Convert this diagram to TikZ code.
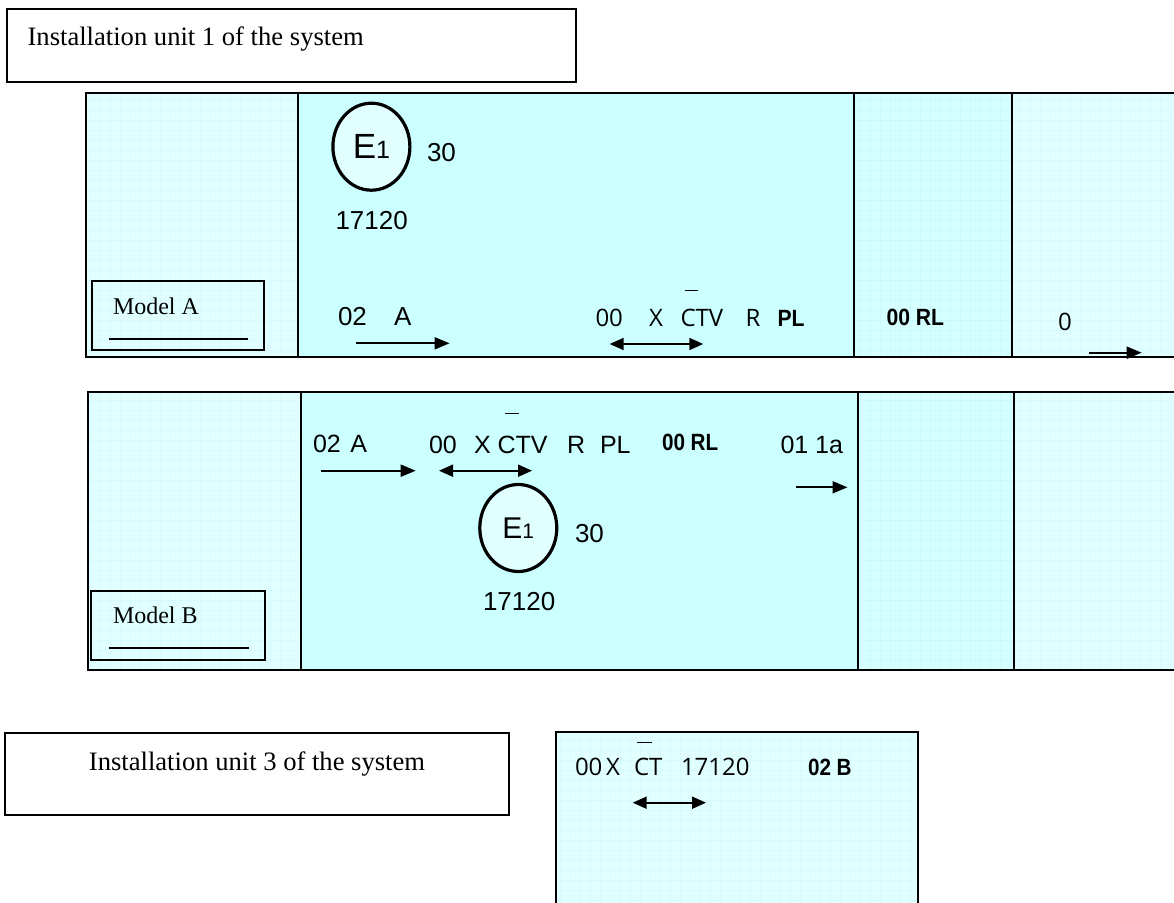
\documentclass[tikz,border=0pt]{standalone}
\usepackage{fontspec}
\usepackage{graphicx}
\setmainfont{Liberation Serif}
\newfontfamily\arialf{Liberation Sans}
\newfontfamily\opensf{Open Sans}
\usetikzlibrary{arrows.meta,shapes.geometric}
\definecolor{cellLight}{RGB}{225,255,255}
\definecolor{gridLight}{RGB}{212,251,255}
\definecolor{cellMid}{RGB}{204,255,255}
\definecolor{cellThird}{RGB}{214,255,255}
\definecolor{gridThird}{RGB}{203,249,255}
\newcommand\gridcell[6]{%
  \begin{scope}
    \clip (#1,#2) rectangle (#3,#4);
    \fill[#5] (#1,#2) rectangle (#3,#4);
    \draw[#6, line width=0.5bp, step=10bp] (#1,#4) grid (#3,#2);
  \end{scope}}
\tikzset{
  lbl/.style={anchor=base west, inner sep=0pt, outer sep=0pt},
  ar/.style={font=\arialf\fontsize{26bp}{30bp}\selectfont},
  arb/.style={font=\arialf\fontsize{25bp}{30bp}\selectfont},
  os/.style={font=\opensf\fontsize{24bp}{28bp}\selectfont},
  tm/.style={font=\fontsize{26.6bp}{30bp}\selectfont},
  tms/.style={font=\fontsize{24bp}{28bp}\selectfont},
  bd/.style={font=\arialf\bfseries\fontsize{23.5bp}{28bp}\selectfont},
  arr/.style={line width=2bp, -{Triangle[length=15bp,width=12bp]}},
  darr/.style={line width=2bp, {Triangle[length=14bp,width=12bp]}-{Triangle[length=14bp,width=12bp]}},
  ovl/.style={line width=1.3bp},
  frame/.style={draw=black, line width=2bp},
  eli/.style={ellipse, draw=black, line width=3.2bp, fill=cellLight, inner sep=0pt,
    minimum width=77bp, minimum height=87bp, font=\arialf},
}
\begin{document}
\begin{tikzpicture}[x=1bp,y=-1bp]
\useasboundingbox (0,0) rectangle (1174,903);
\fill[white] (0,0) rectangle (1174,903);

% ---------- unit 1 title box
\draw[frame] (7,9.3) rectangle (576,81.7);
\node[lbl,tm] (t1) at (27.6,45) {Installation unit 1 of the system};

% ---------- row A
\gridcell{86}{93.3}{298}{357}{cellLight}{gridLight}
\fill[cellMid] (298,93.3) rectangle (854,357);
\gridcell{854}{93.3}{1012}{357}{cellThird}{gridThird}
\gridcell{1012}{93.3}{1180}{357}{cellLight}{gridLight}
\draw[frame] (86,93.3) rectangle (1180,357);
\draw[frame] (298,93.3) -- (298,357);
\draw[frame] (854,93.3) -- (854,357);
\draw[frame] (1012,93.3) -- (1012,357);

\draw[frame] (91.8,281) rectangle (264,350);
\node[lbl,tms] (mA) at (113,314) {Model A};
\draw[line width=2bp] (109,338.7) -- (248,338.7);

\node[eli] (eA) at (371.4,146.7) {\fontsize{35bp}{40bp}\selectfont E\fontsize{25bp}{30bp}\selectfont 1};
\node[lbl,ar] (a30) at (427,161.7) {30};
\node[lbl,ar] (a17) at (335.5,229.3) {17120};

\node[lbl,ar] (a02) at (338,325.7) {02};
\node[lbl,ar] (aA) at (394,325.7) {A};
\coordinate (pa1) at (356,343.3);
\coordinate (pa2) at (449.6,343.3);
\draw[arr] (pa1) -- (pa2);

\node[lbl,os] (a00) at (595.5,326) {00};
\node[lbl,os] (aX) at (649,326) {X};
\node[lbl,os] (aCTV) at (680.5,326) {CTV};
\node[lbl,os] (aR) at (745.5,326) {R};
\node[lbl,bd] (aPL) at (777.5,326) {\scalebox{0.9}[1]{PL}};
\coordinate (oa1) at (684.5,290.7);
\coordinate (oa2) at (698,290.7);
\draw[ovl] (oa1) -- (oa2);
\coordinate (da1) at (609.7,344);
\coordinate (da2) at (703.3,344);
\draw[darr] (da1) -- (da2);

\node[lbl,bd] (aRL) at (886.5,325) {\scalebox{0.9}[1]{00 RL}};

\node[lbl,os] (a0) at (1058,330) {0};
\coordinate (ra1) at (1089,352.7);
\coordinate (ra2) at (1141.7,352.7);
\draw[arr] (ra1) -- (ra2);

% ---------- row B
\gridcell{87.7}{392}{300.7}{670}{cellLight}{gridLight}
\fill[cellMid] (300.7,392) rectangle (857.7,670);
\gridcell{857.7}{392}{1014}{670}{cellThird}{gridThird}
\gridcell{1014}{392}{1180}{670}{cellLight}{gridLight}
\draw[frame] (87.7,392) rectangle (1180,670);
\draw[frame] (300.7,392) -- (300.7,670);
\draw[frame] (857.7,392) -- (857.7,670);
\draw[frame] (1014,392) -- (1014,670);

\draw[frame] (91.2,590.7) rectangle (265,660);
\node[lbl,tms] (mB) at (113,623.3) {Model B};
\draw[line width=2bp] (109,648) -- (248.6,648);

\node[lbl,arb] (b02) at (313,452.7) {02};
\node[lbl,arb] (bA) at (350.4,452.7) {A};
\coordinate (pb1) at (321,470.7);
\coordinate (pb2) at (415.7,470.7);
\draw[arr] (pb1) -- (pb2);

\node[lbl,arb] (b00) at (429,453.3) {00};
\node[lbl,arb] (bXCTV) at (474,453.3) {X CTV};
\node[lbl,arb] (bR) at (567,453.3) {R};
\node[lbl,arb] (bPL) at (600,453.3) {PL};
\coordinate (ob1) at (505,413.3);
\coordinate (ob2) at (518.5,413.3);
\draw[ovl] (ob1) -- (ob2);
\coordinate (db1) at (439,470.7);
\coordinate (db2) at (532,470.7);
\draw[darr] (db1) -- (db2);

\node[lbl,bd] (bRL) at (662,450.7) {\scalebox{0.88}[1]{00 RL}};
\node[lbl,arb] (b011a) at (780.5,453.3) {01 1a};
\coordinate (rb1) at (795.6,487.3);
\coordinate (rb2) at (847.5,487.3);
\draw[arr] (rb1) -- (rb2);

\node[eli] (eB) at (518.3,528) {\fontsize{30bp}{34bp}\selectfont E\fontsize{21bp}{25bp}\selectfont 1};
\node[lbl,ar] (b30) at (575,542.3) {30};
\node[lbl,ar] (b17) at (483,610.7) {17120};

% ---------- unit 3 title box
\draw[frame] (5.2,733.3) rectangle (509,815);
\node[tm, anchor=base, inner sep=0pt] (t3) at (257,770) {Installation unit 3 of the system};

% ---------- unit 3 panel
\gridcell{555.7}{731.7}{918.3}{912}{cellLight}{gridLight}
\draw[frame] (555.7,912) -- (555.7,731.7) -- (918.3,731.7) -- (918.3,912);
\node[lbl,os] (c00) at (575,775.7) {00};
\node[lbl,os] (cX) at (606,775.7) {X};
\node[lbl,os] (cCT) at (634,775.7) {CT};
\node[lbl,os] (c17) at (681,775.7) {17120};
\node[lbl,bd] (c02B) at (808,775.7) {\scalebox{0.88}[1]{02 B}};
\coordinate (oc1) at (637,742.3);
\coordinate (oc2) at (651.7,742.3);
\draw[ovl] (oc1) -- (oc2);
\coordinate (dc1) at (632.7,802.7);
\coordinate (dc2) at (706,802.7);
\draw[darr] (dc1) -- (dc2);
\end{tikzpicture}
\end{document}
